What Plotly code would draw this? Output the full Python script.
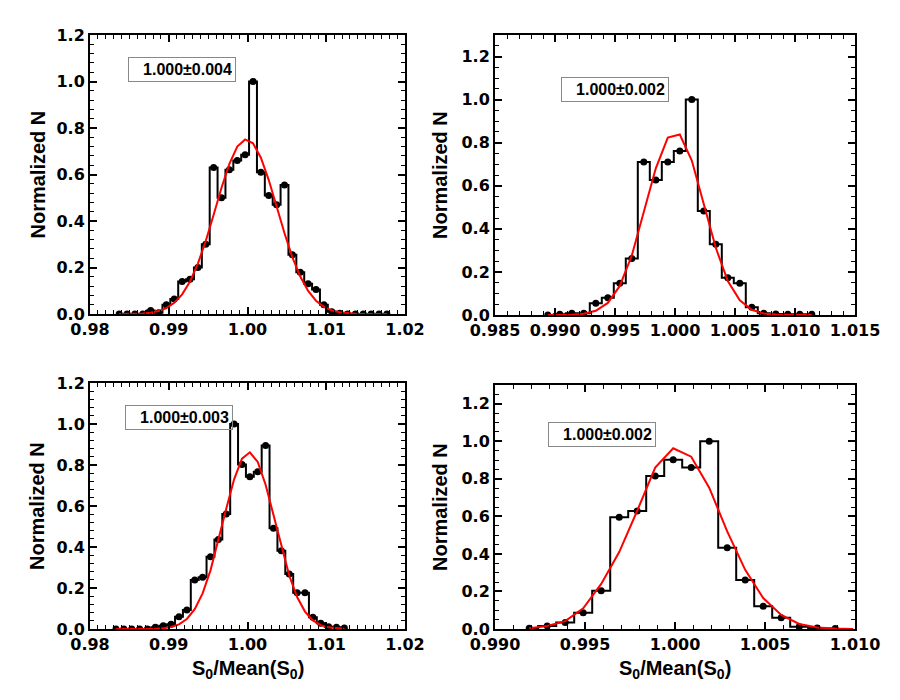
import plotly.graph_objects as go

# bin centres and normalized counts
p1_x = [0.9837, 0.9847, 0.9857, 0.9867, 0.9877, 0.9887, 0.9897, 0.9907, 0.9917, 0.9927,
        0.9937, 0.9947, 0.9957, 0.9967, 0.9977, 0.9987, 0.9997, 1.0007, 1.0017, 1.0027,
        1.0037, 1.0047, 1.0057, 1.0067, 1.0077, 1.0087, 1.0097, 1.0107, 1.0117, 1.0127,
        1.0137, 1.0147, 1.0157, 1.0167, 1.0177]
p1_n = [0, 0, 0, 0, 0.015, 0.005, 0.04, 0.065, 0.14, 0.15,
        0.2, 0.3, 0.63, 0.5, 0.62, 0.66, 0.685, 1.0, 0.61, 0.51,
        0.47, 0.555, 0.255, 0.18, 0.13, 0.105, 0.04, 0.01, 0.003, 0,
        0, 0, 0, 0, 0]
p1_fit = [0.0001, 0.0004, 0.001, 0.0026, 0.0059, 0.0126, 0.0254, 0.048, 0.0847, 0.14,
          0.217, 0.314, 0.427, 0.543, 0.646, 0.72, 0.751, 0.734, 0.672, 0.576,
          0.462, 0.347, 0.244, 0.161, 0.099, 0.057, 0.031, 0.0157, 0.0074, 0.0033,
          0.0014, 0.0005, 0.0002, 0.0001, 0.0]

p2_x = [0.9894, 0.9904, 0.9914, 0.9924, 0.9934, 0.9944, 0.9954, 0.9964, 0.9974, 0.9984,
        0.9994, 1.0004, 1.0014, 1.0024, 1.0034, 1.0044, 1.0054, 1.0064, 1.0074, 1.0084,
        1.0094, 1.0104, 1.0114]
p2_n = [0, 0.003, 0.008, 0.008, 0.054, 0.08, 0.147, 0.262, 0.71, 0.627,
        0.71, 0.761, 1.0, 0.483, 0.328, 0.173, 0.147, 0.036, 0.008, 0.005,
        0.003, 0.003, 0.003]
p2_fit = [0.0001, 0.0003, 0.0014, 0.0057, 0.0194, 0.056, 0.135, 0.276, 0.473, 0.681,
          0.824, 0.838, 0.717, 0.516, 0.312, 0.158, 0.068, 0.024, 0.0073, 0.0019,
          0.0004, 0.0001, 0.0]

p3_x = [0.9833, 0.9843, 0.9853, 0.9863, 0.9873, 0.9883, 0.9893, 0.9903, 0.9913, 0.9923,
        0.9933, 0.9943, 0.9953, 0.9963, 0.9973, 0.9983, 0.9993, 1.0003, 1.0013, 1.0023,
        1.0033, 1.0043, 1.0053, 1.0063, 1.0073, 1.0083, 1.0093, 1.0103, 1.0113, 1.0123]
p3_n = [0, 0, 0, 0, 0, 0.008, 0.016, 0.023, 0.06, 0.093,
        0.239, 0.252, 0.353, 0.437, 0.561, 1.0, 0.803, 0.743, 0.767, 0.895,
        0.491, 0.382, 0.268, 0.177, 0.177, 0.057, 0.028, 0.011, 0.008, 0.005]
p3_fit = [0, 0, 0, 0.0001, 0.0004, 0.0013, 0.0037, 0.0096, 0.0227, 0.049,
          0.097, 0.174, 0.286, 0.429, 0.586, 0.73, 0.831, 0.862, 0.815, 0.704,
          0.555, 0.398, 0.261, 0.156, 0.085, 0.042, 0.019, 0.008, 0.003, 0.001]

p4_x = [0.9919, 0.9929, 0.9939, 0.9949, 0.9959, 0.9969, 0.9979, 0.9989, 0.9999, 1.0009,
        1.0019, 1.0029, 1.0039, 1.0049, 1.0059, 1.0069, 1.0079, 1.0089]
p4_n = [0.004, 0.016, 0.034, 0.087, 0.204, 0.595, 0.629, 0.815, 0.902, 0.86,
        1.0, 0.433, 0.261, 0.121, 0.06, 0.012, 0.005, 0.002]
p4_fit_x = p4_x + [1.0099]
p4_fit = [0.004, 0.016, 0.042, 0.11, 0.24, 0.41, 0.63, 0.86, 0.963, 0.918,
          0.753, 0.52, 0.315, 0.165, 0.075, 0.027, 0.008, 0.002, 0.0005]

labels = ["1.000\u00b10.004", "1.000\u00b10.002", "1.000\u00b10.003", "1.000\u00b10.002"]

FONT = "Liberation Sans, Arial, Helvetica, sans-serif"
TICKFONT = "DejaVu Sans, Liberation Sans, sans-serif"
W, H = 900, 700
PAGE_OFF = 8  # the page body adds an 8px margin around the plot div


def dom_x(a, b):
    return [(a - PAGE_OFF) / W, (b - PAGE_OFF) / W]


def dom_y(top, bottom):
    return [1 - (bottom - PAGE_OFF) / H, 1 - (top - PAGE_OFF) / H]


# frame pixel positions in the reference (left, right, top, bottom)
panels = [
    dict(x=p1_x, n=p1_n, fx=p1_x, fit=p1_fit, xr=[0.98, 1.02], xd=0.01, xf=".2f",
         yr=[0, 1.2], ym=0.04, frame=(90, 405, 35, 314), box=(182, 70), ytx=37),
    dict(x=p2_x, n=p2_n, fx=p2_x, fit=p2_fit, xr=[0.985, 1.015], xd=0.005, xf=".3f",
         yr=[0, 1.3], ym=0.05, frame=(495, 855, 35, 315), box=(615, 90), ytx=440),
    dict(x=p3_x, n=p3_n, fx=p3_x, fit=p3_fit, xr=[0.98, 1.02], xd=0.01, xf=".2f",
         yr=[0, 1.2], ym=0.04, frame=(90, 405, 383, 629), box=(179, 417.5), ytx=37),
    dict(x=p4_x, n=p4_n, fx=p4_fit_x, fit=p4_fit, xr=[0.99, 1.01], xd=0.005, xf=".3f",
         yr=[0, 1.3], ym=0.05, frame=(495, 855, 385, 629), box=(601.5, 434.5), ytx=440),
]

fig = go.Figure()
layout = {}
for i, p in enumerate(panels):
    s = "" if i == 0 else str(i + 1)
    xa, ya = "x" + s, "y" + s
    l, r, t, b = p["frame"]
    fig.add_trace(go.Scatter(x=p["x"], y=p["n"], mode="lines", line=dict(color="black", width=2, shape="hvh"),
                             xaxis=xa, yaxis=ya))
    fig.add_trace(go.Scatter(x=p["x"], y=p["n"], mode="markers", marker=dict(color="black", size=7),
                             xaxis=xa, yaxis=ya))
    fig.add_trace(go.Scatter(x=p["fx"], y=p["fit"], mode="lines", line=dict(color="#ff0000", width=2),
                             xaxis=xa, yaxis=ya))

    common = dict(ticks="inside", mirror="allticks", showline=True, linewidth=2, linecolor="black",
                  tickcolor="black", tickwidth=1.5, ticklen=7, showgrid=False, zeroline=False,
                  automargin=False,
                  tickfont=dict(family=TICKFONT, size=16, color="black", weight="bold"))
    layout["xaxis" + s] = dict(common, domain=dom_x(l, r), anchor=ya, range=p["xr"], tick0=p["xr"][0],
                               dtick=p["xd"], tickformat=p["xf"],
                               minor=dict(ticks="inside", dtick=0.001, ticklen=4, tickcolor="black", tickwidth=1.2))
    layout["yaxis" + s] = dict(common, domain=dom_y(t, b), anchor=xa, range=p["yr"], tick0=0, dtick=0.2,
                               tickformat=".1f",
                               minor=dict(ticks="inside", dtick=p["ym"], ticklen=4, tickcolor="black", tickwidth=1.2))

    title_font = dict(family=FONT, size=20, color="black", weight="bold")
    # y title
    fig.add_annotation(text="Normalized N", xref="paper", yref="paper", textangle=-90,
                       x=(p["ytx"] - PAGE_OFF) / W, y=1 - ((t + b) / 2 - PAGE_OFF) / H,
                       xanchor="center", yanchor="middle", showarrow=False, font=title_font)
    # x title on the bottom row
    if i >= 2:
        fig.add_annotation(text="S<sub>0</sub>/Mean(S<sub>0</sub>)", xref="paper", yref="paper",
                           x=((l + r) / 2 - PAGE_OFF) / W, y=1 - (669 - PAGE_OFF) / H,
                           xanchor="center", yanchor="middle", showarrow=False, font=title_font)

    bx, by = p["box"]
    fig.add_annotation(text=labels[i], xref="paper", yref="paper",
                       x=(bx - PAGE_OFF) / W, y=1 - (by - PAGE_OFF) / H, xanchor="center", yanchor="middle",
                       showarrow=False, width=100, align="right",
                       bordercolor="#888888", borderwidth=1, borderpad=3,
                       font=dict(family=FONT, size=16, color="black", weight="bold"))

fig.update_layout(**layout)
fig.update_layout(width=W, height=H, margin=dict(l=0, r=0, t=0, b=0, autoexpand=False),
                  paper_bgcolor="white", plot_bgcolor="white", showlegend=False)

fig.write_html("out.html")
